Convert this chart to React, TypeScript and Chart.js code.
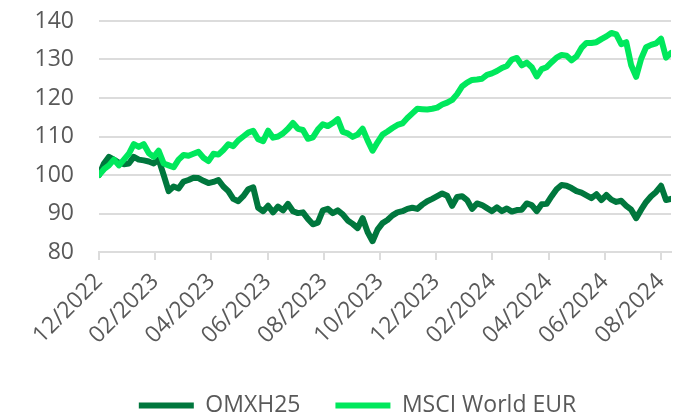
import React, { useEffect, useRef } from "react";
import { Chart, registerables } from "chart.js";

Chart.register(...registerables);

// x-axis tick labels, one every two months
const TICK_LABELS = [
  "12/2022", "02/2023", "04/2023", "06/2023", "08/2023", "10/2023",
  "12/2023", "02/2024", "04/2024", "06/2024", "08/2024",
];
const MONTHS_PER_TICK = 2;
// observations are roughly 5.4 calendar days apart
const MONTHS_PER_POINT = 0.177;

const SERIES_NAMES = ["OMXH25", "MSCI World EUR"];

const OMXH25 = [
  100, 103, 104.7, 104, 103.2, 102.8, 103, 104.7, 104, 103.8,
  103.5, 103, 104, 100, 95.8, 97, 96.5, 98.3, 98.7, 99.3,
  99.2, 98.5, 97.9, 98.2, 98.7, 97, 95.8, 93.8, 93.2, 94.5,
  96.3, 96.8, 91.5, 90.6, 92, 90.3, 91.8, 90.8, 92.5, 90.6,
  90.1, 90.3, 88.6, 87.2, 87.6, 90.8, 91.2, 90.1, 90.8, 89.8,
  88.2, 87.3, 86.2, 88.8, 85.2, 82.8, 85.8, 87.5, 88.3, 89.5,
  90.3, 90.6, 91.2, 91.5, 91.2, 92.3, 93.2, 93.8, 94.5, 95.2,
  94.6, 92, 94.3, 94.5, 93.5, 91.2, 92.6, 92.2, 91.4, 90.6,
  91.6, 90.6, 91.3, 90.5, 90.9, 91, 92.6, 92.2, 90.6, 92.4,
  92.5, 94.5, 96.3, 97.4, 97.2, 96.6, 95.8, 95.4, 94.7, 94,
  95, 93.5, 94.8, 93.6, 93, 93.3, 92, 91, 88.8, 91,
  93, 94.5, 95.6, 97.2, 93.5, 93.8,
];

const MSCI_WORLD_EUR = [
  100, 101.5, 102.5, 104, 102.5, 104, 105.5, 108, 107.3, 108,
  105.7, 104.7, 106.3, 103, 102.5, 102, 104, 105.2, 105, 105.5,
  106, 104.5, 103.6, 105.5, 105.3, 106.5, 108, 107.5, 109, 110,
  111, 111.5, 109.3, 108.8, 111.5, 109.7, 110, 110.8, 112, 113.5,
  112, 111.7, 109.4, 109.8, 111.8, 113.2, 112.7, 113.5, 114.5, 111.2,
  110.8, 109.9, 110.5, 112, 109, 106.3, 108.5, 110.5, 111.3, 112.2,
  113, 113.4, 114.8, 116, 117.2, 117.1, 117, 117.2, 117.5, 118.3,
  118.8, 119.5, 121, 123, 124, 124.7, 124.8, 125, 126, 126.4,
  127, 127.8, 128.3, 130, 130.4, 128.5, 129.2, 128, 125.6, 127.5,
  128, 129.3, 130.5, 131.2, 131, 129.8, 130.8, 133, 134.3, 134.3,
  134.5, 135.3, 136, 136.9, 136.5, 134, 134.5, 128.5, 125.5, 130.2,
  133.2, 133.8, 134.2, 135.4, 130.5, 131.7,
];

const Y_MIN = 80;
const Y_MAX = 140;
const Y_STEP = 10;

const DARK = "#00773d";
const LIGHT = "#00e85c";
const TEXT = "#595959";
const GRID = "#dcdcdc";
const FONT = "'Open Sans', sans-serif";

const toPoints = (arr: number[]) =>
  arr.map((v, i) => ({ x: i * MONTHS_PER_POINT, y: v }));

const legendTweakPlugin = {
  id: "legendTweak",
  beforeInit(chart: any) {
    const legend = chart.legend;
    if (!legend) return;
    const origFit = legend.fit;
    legend.fit = function () {
      origFit.call(this);
      this.height = 58;
    };
    const origDraw = legend.draw;
    legend.draw = function () {
      const ctx = this.ctx;
      ctx.save();
      ctx.translate(22, 0);
      origDraw.call(this);
      ctx.restore();
    };
  },
};

export default function App() {
  const ref = useRef<HTMLCanvasElement | null>(null);

  useEffect(() => {
    if (!ref.current) return;
    const maxX = (OMXH25.length - 1) * MONTHS_PER_POINT;
    const chart = new Chart(ref.current, {
      type: "line",
      data: {
        datasets: [
          {
            label: SERIES_NAMES[0],
            data: toPoints(OMXH25),
            borderColor: DARK,
            backgroundColor: DARK,
            borderWidth: 6,
            pointRadius: 0,
            borderCapStyle: "round",
            borderJoinStyle: "round",
            tension: 0,
            order: 1,
          },
          {
            label: SERIES_NAMES[1],
            data: toPoints(MSCI_WORLD_EUR),
            borderColor: LIGHT,
            backgroundColor: LIGHT,
            borderWidth: 6,
            pointRadius: 0,
            borderCapStyle: "round",
            borderJoinStyle: "round",
            tension: 0,
            order: 0,
          },
        ],
      },
      plugins: [legendTweakPlugin],
      options: {
        animation: false,
        responsive: false,
        maintainAspectRatio: false,
        layout: { padding: { top: 21, right: 26, left: 0, bottom: 0 } },
        plugins: {
          tooltip: { enabled: false },
          legend: {
            position: "bottom",
            labels: {
              usePointStyle: true,
              pointStyle: "line",
              pointStyleWidth: 55,
              padding: 35,
              color: TEXT,
              font: { family: FONT, size: 23 },
              sort: (a: any, b: any) => a.datasetIndex - b.datasetIndex,
            },
          },
        },
        scales: {
          x: {
            type: "linear",
            min: 0,
            max: maxX,
            afterFit: (s: any) => {
              s.height = 107;
            },
            grid: {
              drawOnChartArea: false,
              drawTicks: true,
              tickLength: 8,
              color: GRID,
              lineWidth: 2,
            },
            border: { display: true, color: GRID, width: 2 },
            ticks: {
              stepSize: MONTHS_PER_TICK,
              includeBounds: false,
              autoSkip: false,
              minRotation: 45,
              maxRotation: 45,
              padding: 8,
              color: TEXT,
              font: { family: FONT, size: 23 },
              callback: (v: any) => {
                const idx = Math.round(Number(v) / MONTHS_PER_TICK);
                return TICK_LABELS[idx] ?? "";
              },
            },
          },
          y: {
            min: Y_MIN,
            max: Y_MAX,
            afterFit: (s: any) => {
              s.width = 99;
            },
            grid: {
              drawTicks: true,
              tickLength: 25,
              tickColor: "rgba(0,0,0,0)",
              color: GRID,
              lineWidth: 2,
            },
            border: { display: false },
            ticks: {
              stepSize: Y_STEP,
              padding: 0,
              color: TEXT,
              font: { family: FONT, size: 23 },
            },
          },
        },
      },
    });
    return () => chart.destroy();
  }, []);

  return (
    <div style={{ position: "absolute", left: 0, top: 0, width: 697, height: 417, background: "#fff" }}>
      <canvas ref={ref} width={697} height={417} />
    </div>
  );
}
